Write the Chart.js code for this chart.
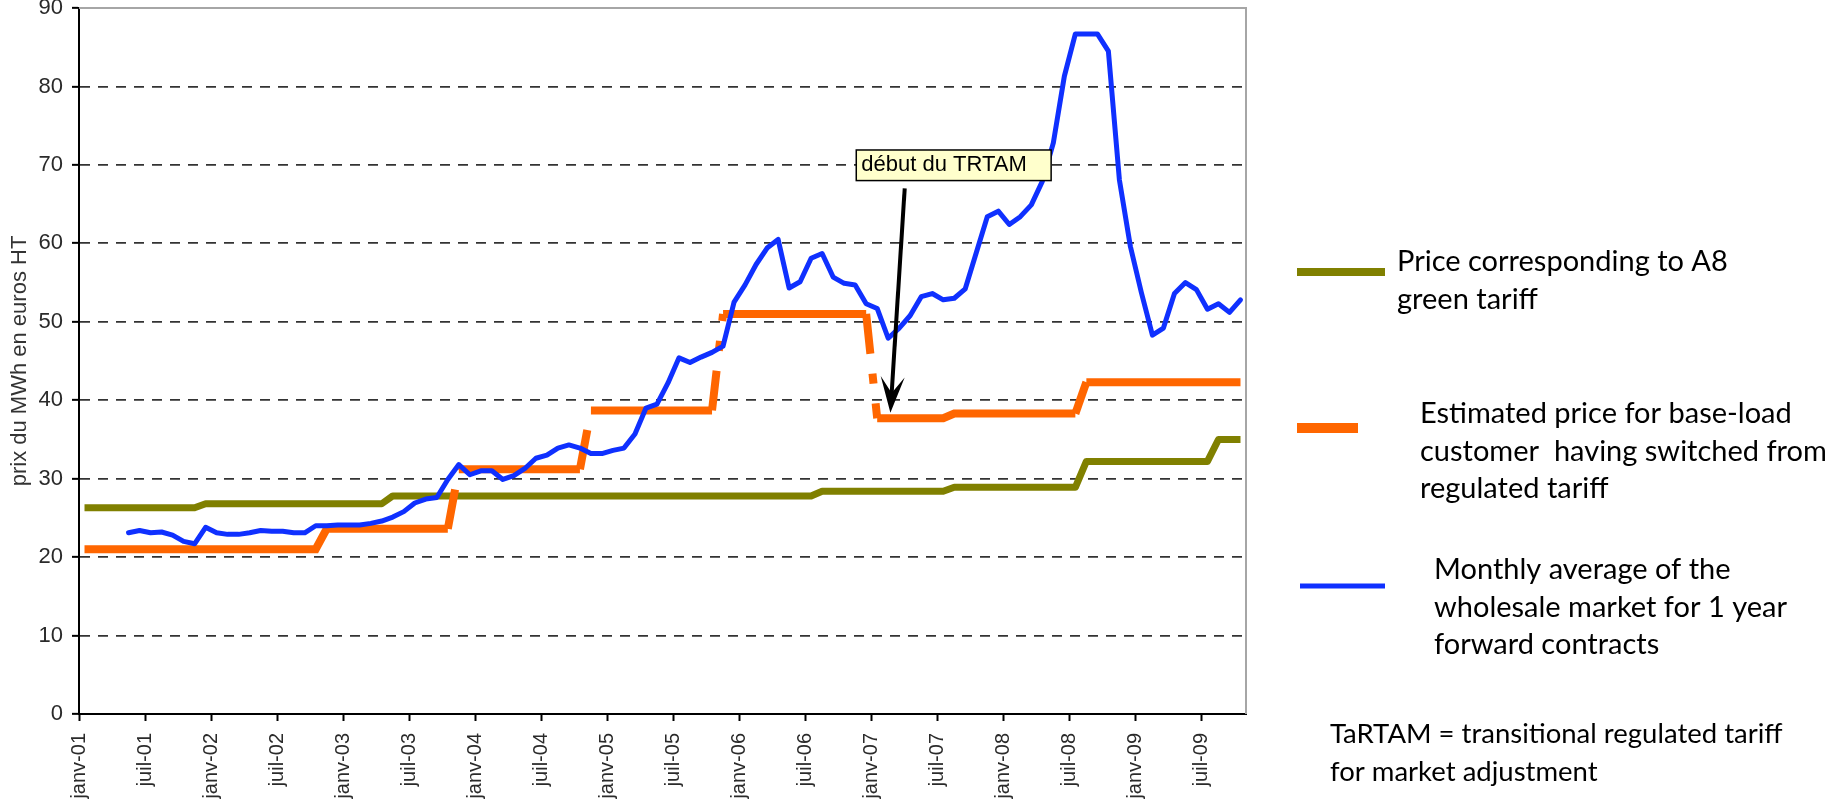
<!DOCTYPE html>
<html>
<head>
<meta charset="utf-8">
<title>Prix du MWh</title>
<script src="https://cdn.jsdelivr.net/npm/chart.js@4.4.1/dist/chart.umd.min.js"></script>
<style>
  html, body { margin: 0; padding: 0; background: #fff; }
  #wrap { position: relative; width: 1836px; height: 805px; }
</style>
</head>
<body>
<div id="wrap"><canvas id="priceChart"></canvas></div>
<script>
// months janv-01 .. oct-09, one point per month
const monthNames = ['janv', 'févr', 'mars', 'avr', 'mai', 'juin', 'juil', 'août', 'sept', 'oct', 'nov', 'déc'];
const years = ['01', '02', '03', '04', '05', '06', '07', '08', '09'];
const months = [];
years.forEach((y) => monthNames.forEach((m) => months.push(m + '-' + y)));
months.length = 106;

// Price corresponding to A8 green tariff
const greenTariff = [
  26.3, 26.3, 26.3, 26.3, 26.3, 26.3, 26.3, 26.3, 26.3, 26.3, 26.3, 26.8,
  26.8, 26.8, 26.8, 26.8, 26.8, 26.8, 26.8, 26.8, 26.8, 26.8, 26.8, 26.8,
  26.8, 26.8, 26.8, 26.8, 27.8, 27.8, 27.8, 27.8, 27.8, 27.8, 27.8, 27.8,
  27.8, 27.8, 27.8, 27.8, 27.8, 27.8, 27.8, 27.8, 27.8, 27.8, 27.8, 27.8,
  27.8, 27.8, 27.8, 27.8, 27.8, 27.8, 27.8, 27.8, 27.8, 27.8, 27.8, 27.8,
  27.8, 27.8, 27.8, 27.8, 27.8, 27.8, 27.8, 28.4, 28.4, 28.4, 28.4, 28.4,
  28.4, 28.4, 28.4, 28.4, 28.4, 28.4, 28.4, 28.9, 28.9, 28.9, 28.9, 28.9,
  28.9, 28.9, 28.9, 28.9, 28.9, 28.9, 28.9, 32.2, 32.2, 32.2, 32.2, 32.2,
  32.2, 32.2, 32.2, 32.2, 32.2, 32.2, 32.2, 35.0, 35.0, 35.0
];

// Estimated price for a base-load customer who left the regulated tariff
const switchedPrice = [
  21.0, 21.0, 21.0, 21.0, 21.0, 21.0, 21.0, 21.0, 21.0, 21.0, 21.0, 21.0,
  21.0, 21.0, 21.0, 21.0, 21.0, 21.0, 21.0, 21.0, 21.0, 21.0, 23.6, 23.6,
  23.6, 23.6, 23.6, 23.6, 23.6, 23.6, 23.6, 23.6, 23.6, 23.6, 31.2, 31.2,
  31.2, 31.2, 31.2, 31.2, 31.2, 31.2, 31.2, 31.2, 31.2, 31.2, 38.7, 38.7,
  38.7, 38.7, 38.7, 38.7, 38.7, 38.7, 38.7, 38.7, 38.7, 38.7, 51.0, 51.0,
  51.0, 51.0, 51.0, 51.0, 51.0, 51.0, 51.0, 51.0, 51.0, 51.0, 51.0, 51.0,
  37.7, 37.7, 37.7, 37.7, 37.7, 37.7, 37.7, 38.3, 38.3, 38.3, 38.3, 38.3,
  38.3, 38.3, 38.3, 38.3, 38.3, 38.3, 38.3, 42.3, 42.3, 42.3, 42.3, 42.3,
  42.3, 42.3, 42.3, 42.3, 42.3, 42.3, 42.3, 42.3, 42.3, 42.3
];

// Monthly average of the wholesale market, 1 year forward
const wholesale = [
  null, null, null, null, 23.1, 23.4, 23.1, 23.2, 22.8, 22.0, 21.7, 23.8,
  23.1, 22.9, 22.9, 23.1, 23.4, 23.3, 23.3, 23.1, 23.1, 24.0, 24.0, 24.1,
  24.1, 24.1, 24.3, 24.6, 25.1, 25.8, 26.9, 27.4, 27.6, 29.9, 31.8, 30.5,
  31.0, 31.0, 29.9, 30.4, 31.3, 32.6, 33.0, 33.9, 34.3, 33.9, 33.2, 33.2,
  33.6, 33.9, 35.7, 39.0, 39.5, 42.2, 45.4, 44.8, 45.5, 46.1, 46.9, 52.5,
  54.7, 57.3, 59.4, 60.5, 54.3, 55.1, 58.1, 58.7, 55.7, 54.9, 54.7, 52.3,
  51.7, 47.9, 49.2, 50.8, 53.2, 53.6, 52.8, 53.0, 54.2, 58.8, 63.4, 64.1,
  62.4, 63.4, 64.9, 67.9, 72.8, 81.3, 86.7, 86.7, 86.7, 84.5, 68.1, 59.6,
  53.7, 48.3, 49.2, 53.6, 55.0, 54.1, 51.6, 52.3, 51.2, 52.8
];

const legendLines = [
  ['Price corresponding to A8', 'green tariff'],
  ['Estimated price for base-load', 'customer  having switched from', 'regulated tariff'],
  ['Monthly average of the', 'wholesale market for 1 year', 'forward contracts']
];
const footnote = ['TaRTAM = transitional regulated tariff', 'for market adjustment'];

// arrow + label, in axis units (month, euro)
const trtamNote = { text: 'début du TRTAM', box: [70.6, 88.3, 71.9, 68.0], from: [75.0, 67.0], to: [73.7, 38.4] };

const OLIVE = '#808000';
const ORANGE = '#ff6600';
const BLUE = '#0f30ff';
const axisFont = '"Liberation Sans", Arial, sans-serif';
const legendFont = 'Lato, "Open Sans", sans-serif';

const toPoints = (arr) => arr.map((v, i) => ({ x: i + 0.5, y: v }));

const notes = {
  id: 'notes',
  beforeDatasetsDraw(chart) {
    const { ctx, chartArea: a } = chart;
    ctx.save();
    ctx.strokeStyle = '#a6a6a6';
    ctx.lineWidth = 2;
    ctx.beginPath();
    ctx.moveTo(a.left, a.top);
    ctx.lineTo(a.right, a.top);
    ctx.lineTo(a.right, a.bottom);
    ctx.stroke();
    ctx.restore();
  },
  afterDatasetsDraw(chart) {
    const { ctx, scales: { x, y } } = chart;
    const n = trtamNote;
    ctx.save();

    // arrow
    const sx = x.getPixelForValue(n.from[0]), sy = y.getPixelForValue(n.from[1]);
    const tx = x.getPixelForValue(n.to[0]), ty = y.getPixelForValue(n.to[1]);
    const ang = Math.atan2(ty - sy, tx - sx);
    const c = Math.cos(ang), s = Math.sin(ang);
    const L = 36, W = 12;
    ctx.strokeStyle = '#000';
    ctx.fillStyle = '#000';
    ctx.lineWidth = 4;
    ctx.beginPath();
    ctx.moveTo(sx, sy);
    ctx.lineTo(tx - c * L * 0.5, ty - s * L * 0.5);
    ctx.stroke();
    const bx = tx - c * L, by = ty - s * L;
    ctx.beginPath();
    ctx.moveTo(tx, ty);
    ctx.lineTo(bx - s * W, by + c * W);
    ctx.lineTo(tx - c * L * 0.55, ty - s * L * 0.55);
    ctx.lineTo(bx + s * W, by - c * W);
    ctx.closePath();
    ctx.fill();

    // label box
    const l = x.getPixelForValue(n.box[0]), r = x.getPixelForValue(n.box[1]);
    const t = y.getPixelForValue(n.box[2]), b = y.getPixelForValue(n.box[3]);
    ctx.fillStyle = '#ffffcc';
    ctx.fillRect(l, t, r - l, b - t);
    ctx.lineWidth = 1.5;
    ctx.strokeRect(l, t, r - l, b - t);
    ctx.fillStyle = '#000';
    ctx.font = '22px ' + axisFont;
    ctx.textBaseline = 'alphabetic';
    ctx.fillText(n.text, l + 5, b - 10);
    ctx.restore();
  },
  afterDraw(chart) {
    const { ctx } = chart;
    // swatch [x0, x1, y, width], text start and first baseline
    const spots = [
      { sw: [1297, 1385, 272, 8], tx: 1397, ty: 271 },
      { sw: [1297, 1358, 428, 10], tx: 1420, ty: 423 },
      { sw: [1300, 1385, 586, 5], tx: 1434, ty: 579 }
    ];
    ctx.save();
    ctx.fillStyle = '#000';
    ctx.textBaseline = 'alphabetic';
    ctx.font = '29px ' + legendFont;
    chart.data.datasets.forEach((ds) => {
      const p = spots[ds.legendIndex];
      ctx.strokeStyle = ds.borderColor;
      ctx.lineWidth = p.sw[3];
      ctx.beginPath();
      ctx.moveTo(p.sw[0], p.sw[2]);
      ctx.lineTo(p.sw[1], p.sw[2]);
      ctx.stroke();
      legendLines[ds.legendIndex].forEach((line, k) => ctx.fillText(line, p.tx, p.ty + k * 37.5));
    });
    ctx.font = '27.5px ' + legendFont;
    footnote.forEach((line, k) => ctx.fillText(line, 1330, 743 + k * 38));
    ctx.restore();
  }
};

new Chart(document.getElementById('priceChart'), {
  type: 'line',
  data: {
    datasets: [
      {
        label: 'Monthly average of the wholesale market for 1 year forward contracts',
        data: toPoints(wholesale),
        borderColor: BLUE,
        borderWidth: 5,
        borderJoinStyle: 'round',
        borderCapStyle: 'round',
        order: 0,
        legendIndex: 2
      },
      {
        label: 'Estimated price for base-load customer having switched from regulated tariff',
        data: toPoints(switchedPrice),
        borderColor: ORANGE,
        borderWidth: 8,
        order: 1,
        legendIndex: 1,
        // long jumps are drawn with a long-dash-dot pattern
        segment: {
          borderDash: (ctx) => Math.abs(ctx.p1.parsed.y - ctx.p0.parsed.y) > 3 ? [40, 20, 10, 20] : undefined
        }
      },
      {
        label: 'Price corresponding to A8 green tariff',
        data: toPoints(greenTariff),
        borderColor: OLIVE,
        borderWidth: 7,
        borderJoinStyle: 'round',
        order: 2,
        legendIndex: 0
      }
    ]
  },
  options: {
    responsive: true,
    maintainAspectRatio: false,
    animation: false,
    devicePixelRatio: 1,
    layout: { padding: { top: 8, right: 590, left: 0, bottom: 0 } },
    elements: { point: { radius: 0 }, line: { tension: 0 } },
    plugins: { legend: { display: false }, tooltip: { enabled: false } },
    scales: {
      x: {
        type: 'linear',
        min: 0,
        max: 106,
        afterBuildTicks: (s) => { s.ticks = s.ticks.filter((t) => t.value % 6 === 0 && t.value < 106); },
        afterFit: (s) => { s.height = 91; s.paddingLeft = 0; s.paddingRight = 0; },
        grid: { drawOnChartArea: false, drawTicks: true, tickLength: 7, tickColor: '#000', tickWidth: 2 },
        border: { color: '#000', width: 2 },
        ticks: {
          stepSize: 6,
          autoSkip: false,
          minRotation: 90,
          maxRotation: 90,
          padding: 12,
          color: '#2a2a2a',
          font: { family: axisFont, size: 20 },
          callback: (v) => months[v]
        }
      },
      y: {
        min: 0,
        max: 90,
        afterFit: (s) => { s.width = 79; s.paddingTop = 0; s.paddingBottom = 0; },
        grid: {
          color: (ctx) => (ctx.tick && (ctx.tick.value === 0 || ctx.tick.value === 90)) ? 'rgba(0,0,0,0)' : '#333',
          lineWidth: 1.7,
          tickLength: 7,
          tickColor: '#000',
          tickWidth: 2
        },
        border: { color: '#000', width: 2, dash: [10, 8] },
        ticks: {
          stepSize: 10,
          padding: 9,
          color: '#2a2a2a',
          font: { family: axisFont, size: 22 }
        },
        title: {
          display: true,
          text: 'prix du MWh en euros HT',
          color: '#333',
          font: { family: axisFont, size: 22 },
          padding: { top: 7, bottom: 0 }
        }
      }
    }
  },
  plugins: [notes]
});
</script>
</body>
</html>
